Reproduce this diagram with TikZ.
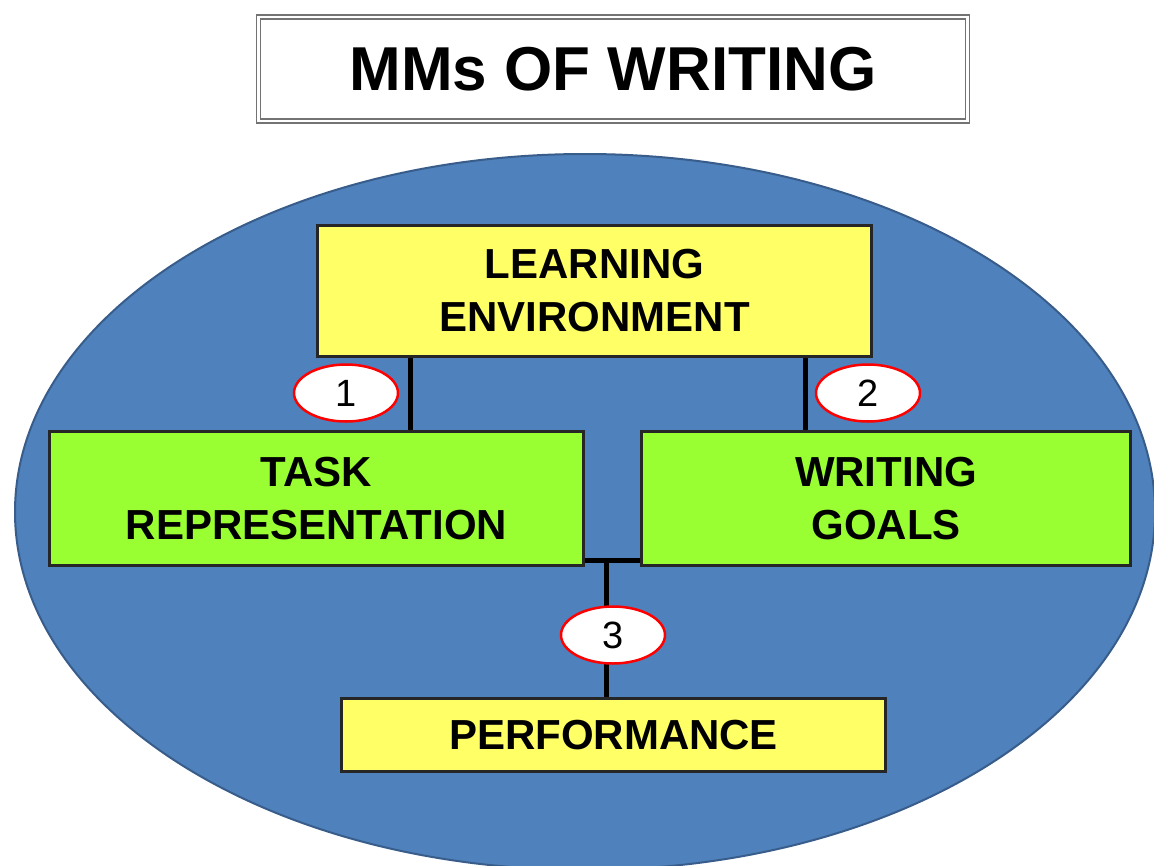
\documentclass[tikz,border=0pt]{standalone}
\usepackage{fontspec}
\setmainfont{Liberation Sans}
\usetikzlibrary{shapes.geometric}
\definecolor{ovalblue}{HTML}{4F81BD}
\definecolor{ovalrim}{HTML}{385D8A}
\definecolor{leyellow}{HTML}{FFFF66}
\definecolor{legreen}{HTML}{99FF33}
\newcommand{\boxfont}{\fontsize{42}{53}\selectfont\bfseries}

\begin{document}
\begin{tikzpicture}[
		x=1pt, y=-1pt,
		heading/.style={rectangle,draw=black!55,double=white,double distance=2.5pt,
		line width=1.5pt,fill=white,minimum width=709pt,minimum height=104pt,
		font=\fontsize{62}{70}\selectfont\bfseries},
		yellowbox/.style={rectangle,draw=black!85,fill=leyellow,line width=3pt,
		align=center,inner sep=0pt,font=\boxfont},
		greenbox/.style={yellowbox,fill=legreen},
		num/.style={ellipse,draw=red,fill=white,line width=2.5pt,inner sep=0pt,
		minimum width=104pt,minimum height=57pt,font=\fontsize{38}{40}\selectfont},
		link/.style={draw=black,line width=5pt}
		]
		\clip (0,0) rectangle (1154,865);
		\fill[white] (0,0) rectangle (1154,865);
		\filldraw[fill=ovalblue,draw=ovalrim,line width=2pt] (585,512) ellipse [x radius=570, y radius=358];
		\node[heading] (title) at (613,69) {MMs OF WRITING};
		\node[yellowbox, minimum width=554pt, minimum height=131pt] (learn) at (594.5,291)
			{LEARNING\\ENVIRONMENT};
		\node[greenbox, minimum width=534pt, minimum height=134pt] (task) at (316.5,498.5)
			{TASK\\REPRESENTATION};
		\node[greenbox, minimum width=489pt, minimum height=134pt] (goals) at (886,498.5)
			{WRITING\\GOALS};
		\node[yellowbox, minimum width=544pt, minimum height=73pt] (perf) at (613.5,735)
			{PERFORMANCE};
		\coordinate (j1) at (410,0);
		\coordinate (j2) at (805,0);
		\coordinate (j3) at (606,560);
		\draw[link] (j1 |- learn.south) -- (j1 |- task.north);
		\draw[link] (j2 |- learn.south) -- (j2 |- goals.north);
		\draw[link] (task.east |- j3) -- (goals.west |- j3);
		\draw[link] (j3) -- (j3 |- perf.north);
		\node[num] (n1) at (346,393) {1};
		\node[num] (n2) at (868,393) {2};
		\node[num] (n3) at (613,635) {3};
	\end{tikzpicture}
\end{document}
